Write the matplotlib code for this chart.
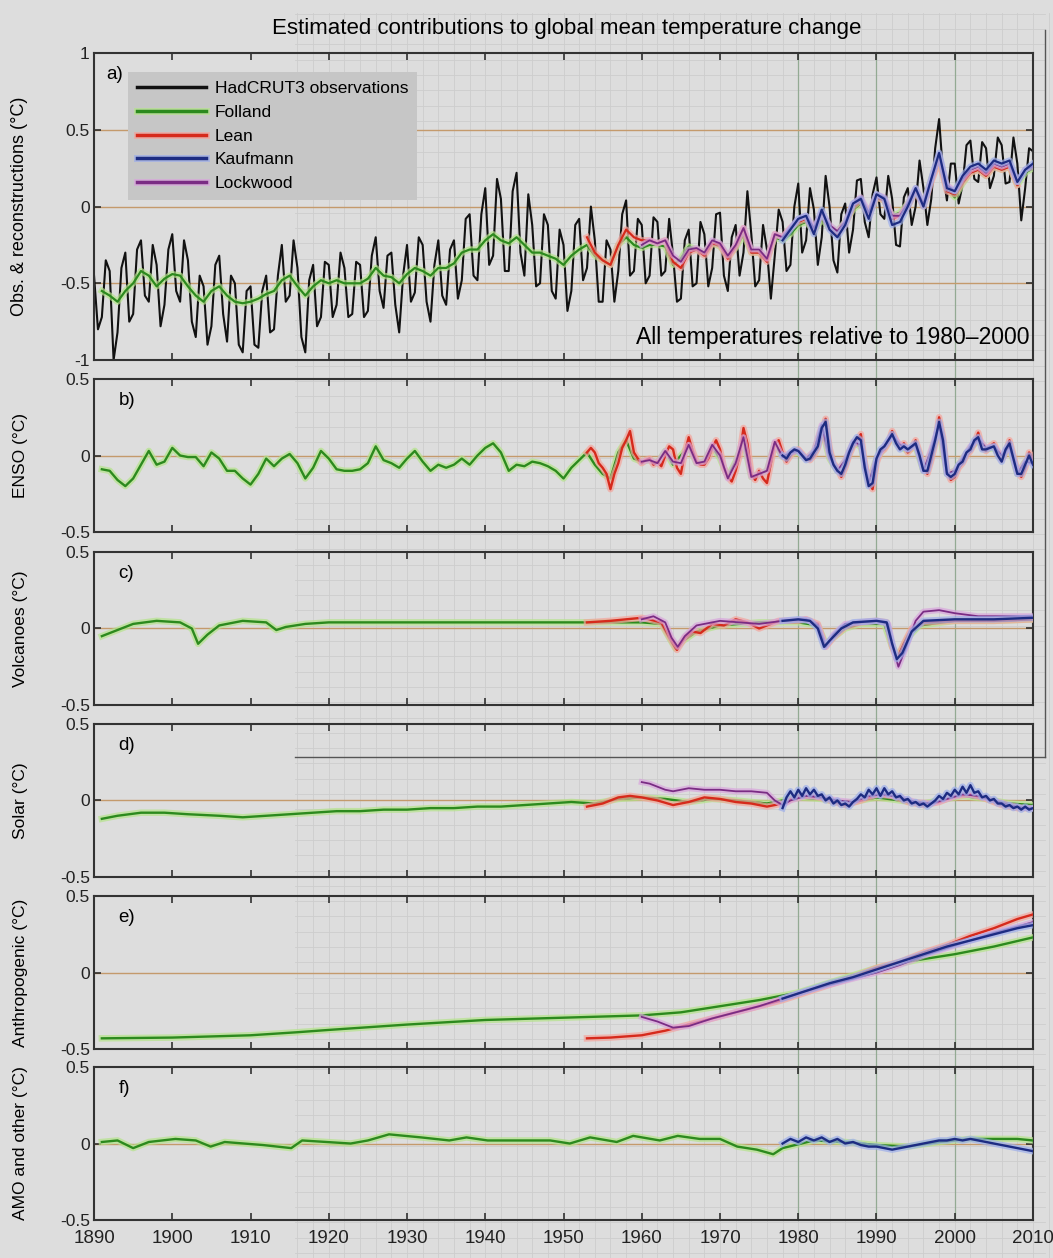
import numpy as np
import matplotlib
matplotlib.use("Agg")
import matplotlib.pyplot as plt
import matplotlib.patheffects as pe
from matplotlib.lines import Line2D
from matplotlib.ticker import FuncFormatter

plt.rcParams["font.family"] = ["Liberation Sans", "DejaVu Sans"]

# ---------------------------------------------------------------------------
# Data (°C, relative to 1980-2000)
# ---------------------------------------------------------------------------

# HadCRUT3 observations, half-year steps from 1890.0
obs_start = 1890.0
hadcrut3_obs = [
    -0.45, -0.80, -0.72, -0.35, -0.42, -1.00, -0.82, -0.40, -0.30, -0.75, -0.70, -0.28, -0.22, -0.58, -0.62, -0.25, -0.38, -0.78, -0.64, -0.28,
    -0.18, -0.55, -0.62, -0.22, -0.35, -0.75, -0.85, -0.45, -0.52, -0.90, -0.78, -0.38, -0.32, -0.70, -0.88, -0.45, -0.50, -0.90, -0.95, -0.55,
    -0.52, -0.90, -0.92, -0.55, -0.45, -0.82, -0.80, -0.45, -0.25, -0.62, -0.58, -0.22, -0.40, -0.85, -0.95, -0.48, -0.38, -0.78, -0.72, -0.36,
    -0.38, -0.72, -0.64, -0.30, -0.40, -0.72, -0.70, -0.36, -0.38, -0.72, -0.68, -0.32, -0.20, -0.55, -0.66, -0.32, -0.30, -0.64, -0.82, -0.45,
    -0.25, -0.62, -0.56, -0.20, -0.25, -0.62, -0.75, -0.38, -0.22, -0.58, -0.64, -0.28, -0.22, -0.60, -0.48, -0.08, -0.05, -0.45, -0.48, -0.05,
    0.12, -0.38, -0.32, 0.18, 0.05, -0.42, -0.42, 0.10, 0.22, -0.30, -0.45, 0.08, -0.12, -0.52, -0.50, -0.05, -0.12, -0.55, -0.60, -0.15,
    -0.25, -0.68, -0.55, -0.12, -0.08, -0.48, -0.40, 0.00, -0.22, -0.62, -0.62, -0.22, -0.28, -0.62, -0.42, -0.05, 0.04, -0.45, -0.42, -0.08,
    -0.12, -0.50, -0.45, -0.07, -0.10, -0.45, -0.42, -0.08, -0.32, -0.62, -0.60, -0.22, -0.15, -0.52, -0.50, -0.10, -0.18, -0.52, -0.40, -0.05,
    -0.04, -0.45, -0.55, -0.20, -0.12, -0.45, -0.30, 0.10, -0.18, -0.52, -0.48, -0.12, -0.28, -0.60, -0.32, -0.02, -0.10, -0.42, -0.38, 0.00,
    0.15, -0.30, -0.22, 0.12, -0.02, -0.38, -0.20, 0.20, 0.00, -0.35, -0.43, -0.05, 0.02, -0.30, -0.15, 0.17, 0.18, -0.10, -0.20, 0.08,
    0.19, -0.05, -0.08, 0.20, 0.05, -0.25, -0.26, 0.06, 0.12, -0.12, 0.00, 0.30, 0.12, -0.12, 0.05, 0.38, 0.57, 0.22, 0.04, 0.28,
    0.28, 0.02, 0.14, 0.40, 0.43, 0.18, 0.16, 0.42, 0.38, 0.12, 0.20, 0.45, 0.40, 0.15, 0.16, 0.45, 0.28, -0.09, 0.12, 0.38,
    0.36,
]

# (a) reconstructions, annual
folland_total_start = 1891
folland_total = [
    -0.55, -0.58, -0.62, -0.55, -0.50, -0.42, -0.45, -0.52, -0.47,
    -0.44, -0.45, -0.52, -0.58, -0.62, -0.55, -0.52, -0.58, -0.62, -0.63,
    -0.62, -0.60, -0.57, -0.55, -0.48, -0.45, -0.52, -0.58, -0.52, -0.48,
    -0.50, -0.48, -0.50, -0.50, -0.50, -0.47, -0.40, -0.45, -0.46, -0.50,
    -0.44, -0.40, -0.42, -0.45, -0.40, -0.40, -0.37, -0.30, -0.28, -0.28,
    -0.22, -0.18, -0.22, -0.24, -0.20, -0.25, -0.30, -0.30, -0.32, -0.34,
    -0.38, -0.32, -0.28, -0.25, -0.32, -0.35, -0.38, -0.25, -0.20, -0.25,
    -0.27, -0.25, -0.25, -0.26, -0.38, -0.34, -0.26, -0.28, -0.30, -0.24,
    -0.26, -0.32, -0.27, -0.18, -0.30, -0.30, -0.34, -0.20, -0.22, -0.18,
    -0.12, -0.10, -0.16, -0.08, -0.14, -0.16, -0.10, -0.02, 0.02, -0.04,
    0.06, 0.04, -0.06, -0.04, 0.02, 0.10, 0.02, 0.18, 0.32, 0.12,
    0.06, 0.15, 0.22, 0.24, 0.20, 0.26, 0.24, 0.26, 0.14, 0.22, 0.25,
]
lean_total_start = 1953
lean_total = [
    -0.20, -0.30, -0.35, -0.38, -0.25, -0.15, -0.20,
    -0.22, -0.22, -0.24, -0.22, -0.36, -0.40, -0.30, -0.28, -0.32, -0.24,
    -0.25, -0.34, -0.26, -0.14, -0.30, -0.30, -0.36, -0.18, -0.20, -0.14,
    -0.10, -0.08, -0.16, -0.04, -0.14, -0.18, -0.12, 0.00, 0.04, -0.06,
    0.06, 0.04, -0.08, -0.06, 0.00, 0.10, 0.00, 0.16, 0.30, 0.10,
    0.08, 0.16, 0.22, 0.24, 0.20, 0.26, 0.24, 0.26, 0.14,
]
kaufmann_total_start = 1978
kaufmann_total = [
    -0.22, -0.15,
    -0.08, -0.06, -0.18, -0.02, -0.15, -0.20, -0.12, 0.02, 0.05, -0.08,
    0.08, 0.05, -0.12, -0.10, 0.00, 0.12, 0.00, 0.18, 0.35, 0.12,
    0.10, 0.20, 0.26, 0.28, 0.24, 0.30, 0.28, 0.30, 0.16, 0.24, 0.28,
]
lockwood_total_start = 1960
lockwood_total = [
    -0.25, -0.22, -0.24, -0.22, -0.32, -0.36, -0.28, -0.27, -0.30, -0.22,
    -0.24, -0.32, -0.25, -0.14, -0.28, -0.28, -0.34, -0.18, -0.20, -0.14,
    -0.08, -0.06, -0.14, -0.04, -0.12, -0.16, -0.10, 0.02, 0.06, -0.04,
    0.08, 0.06, -0.06, -0.06, 0.02, 0.12, 0.02, 0.18, 0.34, 0.14,
    0.10, 0.18, 0.24, 0.26, 0.22, 0.28, 0.26, 0.28, 0.16, 0.24, 0.26,
]

# (b) ENSO
folland_enso_start = 1891
folland_enso = [
    -0.09, -0.10, -0.16, -0.20, -0.15, -0.06, 0.03, -0.06, -0.04,
    0.05, 0.00, -0.01, -0.01, -0.07, 0.02, -0.02, -0.10, -0.10, -0.15,
    -0.19, -0.12, -0.02, -0.07, -0.02, 0.01, -0.05, -0.15, -0.08, 0.03,
    -0.02, -0.09, -0.10, -0.10, -0.09, -0.05, 0.06, -0.03, -0.05, -0.08,
    -0.02, 0.03, -0.04, -0.10, -0.06, -0.08, -0.06, -0.02, -0.06, 0.00,
    0.05, 0.08, 0.02, -0.10, -0.06, -0.07, -0.04, -0.05, -0.07, -0.10,
    -0.15, -0.08, -0.03, 0.02, -0.06, -0.12, -0.15, 0.02, 0.10, -0.02,
    -0.04, -0.03, -0.05, 0.03, -0.06, 0.00, 0.06, -0.05, -0.04, 0.06,
    -0.02, -0.14, -0.04, 0.10, -0.14, -0.12, -0.10, 0.08, -0.01, 0.01,
    0.02, -0.02, 0.02, 0.18, -0.02, -0.10, -0.04, 0.08, 0.06, -0.18,
    -0.02, 0.05, 0.12, 0.06, 0.03, 0.06, -0.10, 0.02, 0.18, -0.12,
    -0.10, -0.02, 0.05, 0.10, 0.04, 0.05, -0.01, 0.05, -0.12, -0.04, -0.03,
]
lean_enso_start = 1953.0  # half-year steps
lean_enso = [
    0.02, 0.05, 0.02, -0.05, -0.08, -0.12, -0.22, -0.12, -0.05, 0.05, 0.10, 0.16, 0.02, -0.02,
    -0.05, -0.03, -0.02, -0.06, -0.04, -0.07, 0.00, 0.06, 0.04, -0.08, -0.12, 0.02, 0.12, 0.03,
    -0.04, -0.06, -0.06, -0.02, 0.05, 0.10, 0.04, -0.08, -0.14, -0.17, -0.10, 0.00, 0.18, 0.08,
    -0.12, -0.16, -0.10, -0.15, -0.18, -0.05, 0.08, 0.10, 0.02, -0.04, 0.00, 0.03,
    0.04, 0.01, -0.02, -0.03, 0.00, 0.05, 0.15, 0.24, 0.05, -0.05, -0.08, -0.14, -0.08, 0.00,
    0.06, 0.10, 0.14, -0.05, -0.18, -0.22, -0.05, 0.02, 0.04, 0.08, 0.16, 0.10, 0.05, 0.08,
    0.02, 0.05, 0.10, 0.02, -0.08, -0.12, -0.03, 0.08, 0.25, 0.12, -0.10, -0.16,
    -0.14, -0.08, -0.05, 0.00, 0.03, 0.08, 0.15, 0.05, 0.03, 0.06, 0.08, 0.02, -0.03, 0.02,
    0.10, 0.00, -0.10, -0.14, -0.08, 0.02, -0.02,
]
kaufmann_enso_start = 1978.0  # half-year steps
kaufmann_enso = [
    0.00, -0.02, 0.02, 0.04, 0.03, 0.00, -0.03, -0.02, 0.02, 0.06, 0.18, 0.22, 0.02, -0.06,
    -0.10, -0.12, -0.06, 0.02, 0.08, 0.12, 0.10, -0.08, -0.20, -0.18, -0.02, 0.04, 0.06, 0.10,
    0.14, 0.08, 0.04, 0.06, 0.04, 0.06, 0.08, 0.00, -0.10, -0.10, 0.00, 0.10, 0.22, 0.10,
    -0.12, -0.14, -0.12, -0.06, -0.04, 0.02, 0.04, 0.10, 0.12, 0.04, 0.04, 0.05, 0.06, 0.00,
    -0.04, 0.04, 0.08, -0.02, -0.12, -0.12, -0.06, 0.00, -0.06,
]
lockwood_enso_start = 1960
lockwood_enso = [
    -0.04, -0.03, -0.05, 0.03, -0.04, -0.05, 0.07, -0.05, -0.04, 0.07,
    0.00, -0.15, -0.05, 0.12, -0.14, -0.12, -0.10, 0.09, -0.01, 0.02,
    0.03, -0.02, 0.03, 0.20, -0.01, -0.10, -0.03, 0.09, 0.07, -0.18,
    -0.02, 0.06, 0.13, 0.07, 0.04, 0.07, -0.10, 0.04, 0.20, -0.12,
    -0.10, -0.02, 0.06, 0.11, 0.05, 0.06, 0.00, 0.06, -0.12, -0.04, -0.05,
]

# (c) volcanoes
folland_volc_years = [1891, 1893, 1895, 1898, 1901, 1902.5, 1903.3, 1904.5, 1906, 1909, 1912, 1913.3, 1914.5,
                      1917, 1920, 1930, 1940, 1950, 1960, 1962.5, 1963.5, 1964.3, 1965.3, 1967, 1970, 1975,
                      1980, 1982.5, 1983.5, 1984.5, 1986, 1988, 1991, 1992, 1992.8, 1994, 1995.5, 2000, 2005, 2010]
folland_volc = [-0.05, -0.01, 0.03, 0.05, 0.04, 0.00, -0.10, -0.04, 0.02, 0.05, 0.04, -0.01, 0.01,
                0.03, 0.04, 0.04, 0.04, 0.04, 0.04, 0.03, -0.06, -0.13, -0.08, -0.02, 0.02, 0.04,
                0.04, 0.02, -0.10, -0.06, 0.00, 0.03, 0.03, -0.12, -0.18, -0.06, 0.02, 0.05, 0.05, 0.06]
lean_volc_years = [1953, 1956, 1960, 1962.5, 1963.5, 1964.5, 1965.5, 1966.5, 1967.5, 1969, 1970.5, 1972, 1973.5,
                   1975, 1976, 1977.5, 1980, 1981, 1982.5, 1983.5, 1984.5, 1986, 1988, 1990, 1991.3, 1992,
                   1992.6, 1993.5, 1994.5, 1996, 2000, 2005, 2010]
lean_volc = [0.04, 0.05, 0.07, 0.04, -0.05, -0.14, -0.06, -0.02, -0.03, 0.03, 0.02, 0.06, 0.04,
             0.00, 0.02, 0.05, 0.05, 0.06, 0.03, -0.12, -0.06, 0.01, 0.04, 0.05, 0.04, -0.12,
             -0.20, -0.10, 0.00, 0.04, 0.05, 0.05, 0.06]
kaufmann_volc_years = [1978, 1980, 1981.5, 1982.5, 1983.3, 1984, 1985.5, 1987, 1990, 1991.3, 1992, 1992.6,
                       1993.3, 1994.5, 1996, 2000, 2005, 2010]
kaufmann_volc = [0.05, 0.06, 0.05, 0.00, -0.12, -0.08, 0.00, 0.04, 0.05, 0.04, -0.10, -0.20,
                 -0.16, -0.02, 0.05, 0.06, 0.06, 0.07]
lockwood_volc_years = [1960, 1961.5, 1963, 1963.8, 1964.6, 1965.5, 1967, 1970, 1975, 1978, 1981, 1982.5,
                       1983.5, 1984.5, 1986, 1990, 1991.5, 1992.2, 1992.8, 1993.8, 1995, 1996, 1998, 2000,
                       2003, 2010]
lockwood_volc = [0.06, 0.08, 0.04, -0.06, -0.12, -0.05, 0.02, 0.05, 0.03, 0.05, 0.06, 0.02,
                 -0.12, -0.04, 0.03, 0.05, 0.03, -0.14, -0.25, -0.12, 0.05, 0.11, 0.12, 0.10,
                 0.08, 0.08]

# (d) solar
folland_solar_years = [1891, 1893, 1896, 1899, 1902, 1906, 1909, 1912, 1915, 1918, 1921, 1924, 1927, 1930,
                       1933, 1936, 1939, 1942, 1945, 1948, 1951, 1954, 1957, 1960, 1963, 1966, 1969, 1972,
                       1976, 1980, 1983, 1986, 1990, 1993, 1996, 2001, 2004, 2007, 2010]
folland_solar = [-0.12, -0.10, -0.08, -0.08, -0.09, -0.10, -0.11, -0.10, -0.09, -0.08, -0.07, -0.07, -0.06, -0.06,
                 -0.05, -0.05, -0.04, -0.04, -0.03, -0.02, -0.01, -0.02, 0.01, 0.02, 0.01, -0.01, 0.01, 0.00,
                 -0.02, 0.02, 0.01, -0.02, 0.02, 0.00, -0.02, 0.03, 0.01, -0.02, -0.03]
lean_solar_years = [1953, 1955, 1957, 1958.5, 1960, 1962, 1964, 1966, 1968, 1970, 1972, 1974, 1976, 1978,
                    1980, 1982, 1984, 1986, 1988, 1990, 1992, 1994, 1996, 1998, 2000, 2002, 2004, 2006,
                    2008, 2010]
lean_solar = [-0.04, -0.02, 0.02, 0.03, 0.02, 0.00, -0.03, -0.01, 0.02, 0.01, -0.01, -0.02, -0.04, -0.02,
              0.03, 0.03, 0.00, -0.03, 0.00, 0.04, 0.03, -0.01, -0.03, -0.01, 0.03, 0.04, 0.01, -0.03,
              -0.05, -0.05]
kaufmann_solar_start = 1978.0  # half-year steps
kaufmann_solar = [
    -0.05, 0.02, 0.06, 0.02, 0.07, 0.03, 0.08, 0.04, 0.07, 0.03, 0.04, 0.00, 0.02, -0.02,
    0.00, -0.03, -0.02, -0.04, -0.01, 0.01, 0.04, 0.02, 0.07, 0.04, 0.08, 0.03, 0.08, 0.04,
    0.06, 0.02, 0.03, 0.00, 0.01, -0.02, -0.01, -0.03, -0.02, -0.04, -0.02, 0.00, 0.03, 0.01,
    0.05, 0.03, 0.07, 0.04, 0.09, 0.05, 0.10, 0.05, 0.06, 0.02, 0.03, 0.00, 0.01, -0.02,
    -0.02, -0.04, -0.03, -0.05, -0.04, -0.06, -0.04, -0.06, -0.05,
]
lockwood_solar_years = [1960, 1961, 1962, 1963, 1964, 1965, 1966, 1968, 1970, 1972, 1974, 1976, 1977, 1978,
                        1979, 1981, 1983, 1985, 1987, 1989, 1991, 1993, 1995, 1997, 1999, 2001, 2003, 2005,
                        2007, 2009, 2010]
lockwood_solar = [0.12, 0.11, 0.09, 0.07, 0.06, 0.07, 0.08, 0.07, 0.07, 0.06, 0.06, 0.05, 0.00, -0.03,
                  0.00, 0.03, 0.02, 0.00, -0.01, 0.03, 0.04, 0.02, -0.01, -0.02, 0.01, 0.04, 0.03, 0.00,
                  -0.03, -0.05, -0.05]

# (e) anthropogenic
folland_anthro_years = [1891, 1900, 1910, 1916, 1920, 1930, 1940, 1950, 1960, 1965, 1970, 1975, 1980, 1985,
                        1990, 1995, 2000, 2005, 2010]
folland_anthro = [-0.43, -0.425, -0.41, -0.39, -0.375, -0.34, -0.31, -0.295, -0.28, -0.26, -0.22, -0.18, -0.13,
                  -0.05, 0.03, 0.08, 0.12, 0.17, 0.23]
lean_anthro_years = [1953, 1956, 1960, 1963, 1966, 1969, 1972, 1975, 1978, 1981, 1984, 1987, 1990, 1993,
                     1996, 1999, 2002, 2005, 2008, 2010]
lean_anthro = [-0.43, -0.425, -0.41, -0.38, -0.34, -0.30, -0.26, -0.22, -0.18, -0.13, -0.08, -0.03, 0.03, 0.07,
               0.13, 0.18, 0.24, 0.29, 0.35, 0.38]
kaufmann_anthro_years = [1978, 1981, 1984, 1987, 1990, 1993, 1996, 1999, 2002, 2005, 2008, 2010]
kaufmann_anthro = [-0.17, -0.12, -0.07, -0.03, 0.02, 0.07, 0.12, 0.17, 0.21, 0.25, 0.29, 0.31]
lockwood_anthro_years = [1960, 1962, 1964, 1966, 1969, 1972, 1975, 1978, 1981, 1984, 1987, 1990, 1993, 1996,
                         1999, 2002, 2005, 2008, 2010]
lockwood_anthro = [-0.29, -0.32, -0.36, -0.35, -0.30, -0.26, -0.22, -0.17, -0.12, -0.08, -0.04, 0.00, 0.05, 0.11,
                   0.16, 0.21, 0.26, 0.30, 0.33]

# (f) AMO and other
folland_amo_years = [1891, 1893, 1895, 1897, 1900.4, 1903, 1904.9, 1906.7, 1911.6, 1915.2, 1916.6, 1922.8, 1925,
                     1927.7, 1931.8, 1935.4, 1937.6, 1940.3, 1945.2, 1948.3, 1950.8, 1953.4, 1956.8, 1958.9,
                     1962.3, 1964.6, 1967.4, 1970, 1972.2, 1974.7, 1976.8, 1978, 1982, 1986, 1990, 1994, 1998,
                     2002, 2005, 2008, 2010]
folland_amo = [0.01, 0.02, -0.03, 0.01, 0.03, 0.02, -0.02, 0.01, -0.01, -0.03, 0.02, 0.00, 0.02,
               0.06, 0.04, 0.02, 0.04, 0.02, 0.02, 0.02, 0.00, 0.04, 0.01, 0.05,
               0.02, 0.05, 0.03, 0.03, -0.02, -0.04, -0.07, -0.03, 0.02, 0.01, -0.01, -0.02, 0.01,
               0.03, 0.03, 0.03, 0.02]
kaufmann_amo_start = 1978
kaufmann_amo = [
    0.00, 0.03,
    0.01, 0.04, 0.02, 0.04, 0.01, 0.03, 0.00, 0.01, -0.01, -0.02,
    -0.02, -0.03, -0.04, -0.03, -0.02, -0.01, 0.00, 0.01, 0.02, 0.02,
    0.03, 0.02, 0.03, 0.02, 0.01, 0.00, -0.01, -0.02, -0.03, -0.04, -0.05,
]

series_names = ["HadCRUT3 observations", "Folland", "Lean", "Kaufmann", "Lockwood"]
COLORS = {"HadCRUT3 observations": "#111111", "Folland": "#2c8a1e", "Lean": "#d62a1c",
          "Kaufmann": "#1d2c82", "Lockwood": "#7a2c84"}
HALOS = {"Folland": "#b4e38a", "Lean": "#f3a49c", "Kaufmann": "#9cadea", "Lockwood": "#d8a4dc"}

BG = "#dddddd"


def steps(start, values, step=1.0):
    return start + step * np.arange(len(values))


def halo(name, width):
    if name not in HALOS:
        return []
    return [pe.Stroke(linewidth=width, foreground=HALOS[name], alpha=0.7), pe.Normal()]


def draw(ax, x, y, name, lw=1.6):
    ax.plot(x, y, color=COLORS[name], lw=lw, solid_joinstyle="round",
            path_effects=halo(name, lw + 3), zorder=3)


fig = plt.figure(figsize=(10.53, 12.58), dpi=100, facecolor=BG)

# axes placement (figure fractions)
left, width = 0.0893, 0.8917
panel_a = [left, 0.7138, width, 0.2440]
small_h = 0.1216
small_bottoms = [0.5771, 0.4396, 0.3029, 0.1661, 0.0302]

# background graph paper, aligned with the year axis
px_per_year = width / 120.0
bg = fig.add_axes([0, 0, 1, 1], zorder=0)
bg.set_xlim(1890 - left / px_per_year, 2010 + (1 - left - width) / px_per_year)
bg.set_ylim(0, 1)
bg.axis("off")
paper_x0 = 1915.7
for yr in np.arange(1916, 2013, 2):
    bg.plot([yr, yr], [0, 0.99], color="#cdcdcd", lw=0.6)
for yy in np.arange(0.004, 0.99, 0.01216):
    bg.plot([paper_x0, 2011.5], [yy, yy], color="#cdcdcd", lw=0.6)
for yr in [1980, 1990, 2000]:
    bg.plot([yr, yr], [0.0302, 0.958], color="#93aa93", lw=0.9)
bg.plot([2011.5, 2011.5], [0.398, 0.976], color="#555555", lw=1.0)
bg.plot([paper_x0, 2011.5], [0.398, 0.398], color="#555555", lw=1.0)

fmt = FuncFormatter(lambda v, _: f"{v:g}")


def style(ax, ylim, yticks, zero_lines, show_x):
    ax.set_facecolor("none")
    ax.set_xlim(1890, 2010)
    ax.set_ylim(*ylim)
    ax.set_yticks(yticks)
    ax.set_xticks(np.arange(1890, 2011, 10))
    ax.yaxis.set_major_formatter(fmt)
    ax.tick_params(direction="in", top=True, right=True, length=5, width=1.1,
                   labelsize=12.5, colors="#222222", pad=3)
    ax.tick_params(axis="x", labelsize=13.5, labelbottom=show_x, pad=7)
    for s in ax.spines.values():
        s.set_color("#333333")
        s.set_linewidth(1.5)
    for z in zero_lines:
        ax.axhline(z, color="#c49a6c", lw=1.0, zorder=1)


# ---- (a) observations & reconstructions ----
ax_a = fig.add_axes(panel_a, zorder=2)
style(ax_a, (-1, 1), [-1, -0.5, 0, 0.5, 1], [-0.5, 0, 0.5], False)
ax_a.plot(steps(obs_start, hadcrut3_obs, 0.5), hadcrut3_obs, color=COLORS["HadCRUT3 observations"],
          lw=1.5, zorder=2)
draw(ax_a, steps(folland_total_start, folland_total), folland_total, "Folland")
draw(ax_a, steps(lean_total_start, lean_total), lean_total, "Lean")
draw(ax_a, steps(lockwood_total_start, lockwood_total), lockwood_total, "Lockwood", lw=1.3)
draw(ax_a, steps(kaufmann_total_start, kaufmann_total), kaufmann_total, "Kaufmann")
ax_a.set_ylabel("Obs. & reconstructions (°C)", fontsize=13)
ax_a.text(0.013, 0.93, "a)", transform=ax_a.transAxes, fontsize=13.5, va="center")
ax_a.text(0.996, 0.075, "All temperatures relative to 1980\u20132000", transform=ax_a.transAxes,
          fontsize=16.5, ha="right", va="center")

handles = [Line2D([], [], color=COLORS[n], lw=2.5, path_effects=halo(n, 5)) for n in series_names]
ax_a.legend(handles, series_names, loc="upper left", bbox_to_anchor=(0.036, 0.938), borderaxespad=0,
            frameon=True, fancybox=False, facecolor="#c6c6c6", edgecolor="none", framealpha=1,
            fontsize=12.5, handlelength=4.0, labelspacing=0.5, borderpad=0.5, handletextpad=0.5)

# ---- (b)-(f) contributions ----
panels = [
    ("b)", "ENSO (°C)", [
        (steps(folland_enso_start, folland_enso), folland_enso, "Folland"),
        (steps(lean_enso_start, lean_enso, 0.5), lean_enso, "Lean"),
        (steps(lockwood_enso_start, lockwood_enso), lockwood_enso, "Lockwood"),
        (steps(kaufmann_enso_start, kaufmann_enso, 0.5), kaufmann_enso, "Kaufmann"),
    ]),
    ("c)", "Volcanoes (°C)", [
        (folland_volc_years, folland_volc, "Folland"),
        (lean_volc_years, lean_volc, "Lean"),
        (lockwood_volc_years, lockwood_volc, "Lockwood"),
        (kaufmann_volc_years, kaufmann_volc, "Kaufmann"),
    ]),
    ("d)", "Solar (°C)", [
        (folland_solar_years, folland_solar, "Folland"),
        (lean_solar_years, lean_solar, "Lean"),
        (lockwood_solar_years, lockwood_solar, "Lockwood"),
        (steps(kaufmann_solar_start, kaufmann_solar, 0.5), kaufmann_solar, "Kaufmann"),
    ]),
    ("e)", "Anthropogenic (°C)", [
        (folland_anthro_years, folland_anthro, "Folland"),
        (lean_anthro_years, lean_anthro, "Lean"),
        (lockwood_anthro_years, lockwood_anthro, "Lockwood"),
        (kaufmann_anthro_years, kaufmann_anthro, "Kaufmann"),
    ]),
    ("f)", "AMO and other (°C)", [
        (folland_amo_years, folland_amo, "Folland"),
        (steps(kaufmann_amo_start, kaufmann_amo), kaufmann_amo, "Kaufmann"),
    ]),
]

axes = [ax_a]
for (tag, ylabel, lines), bottom in zip(panels, small_bottoms):
    ax = fig.add_axes([left, bottom, width, small_h], zorder=2)
    style(ax, (-0.5, 0.5), [-0.5, 0, 0.5], [0], tag == "f)")
    for x, y, name in lines:
        draw(ax, x, y, name, lw=1.3 if name == "Lockwood" else 1.7)
    ax.set_ylabel(ylabel, fontsize=12.5)
    ax.text(0.026, 0.86, tag, transform=ax.transAxes, fontsize=13.5, va="center")
    axes.append(ax)

for ax in axes:
    ax.yaxis.set_label_coords(-0.07, 0.5)

fig.text(0.5385, 0.9777, "Estimated contributions to global mean temperature change",
         ha="center", va="center", fontsize=16)

fig.savefig("out.png", dpi=100, facecolor=BG)
